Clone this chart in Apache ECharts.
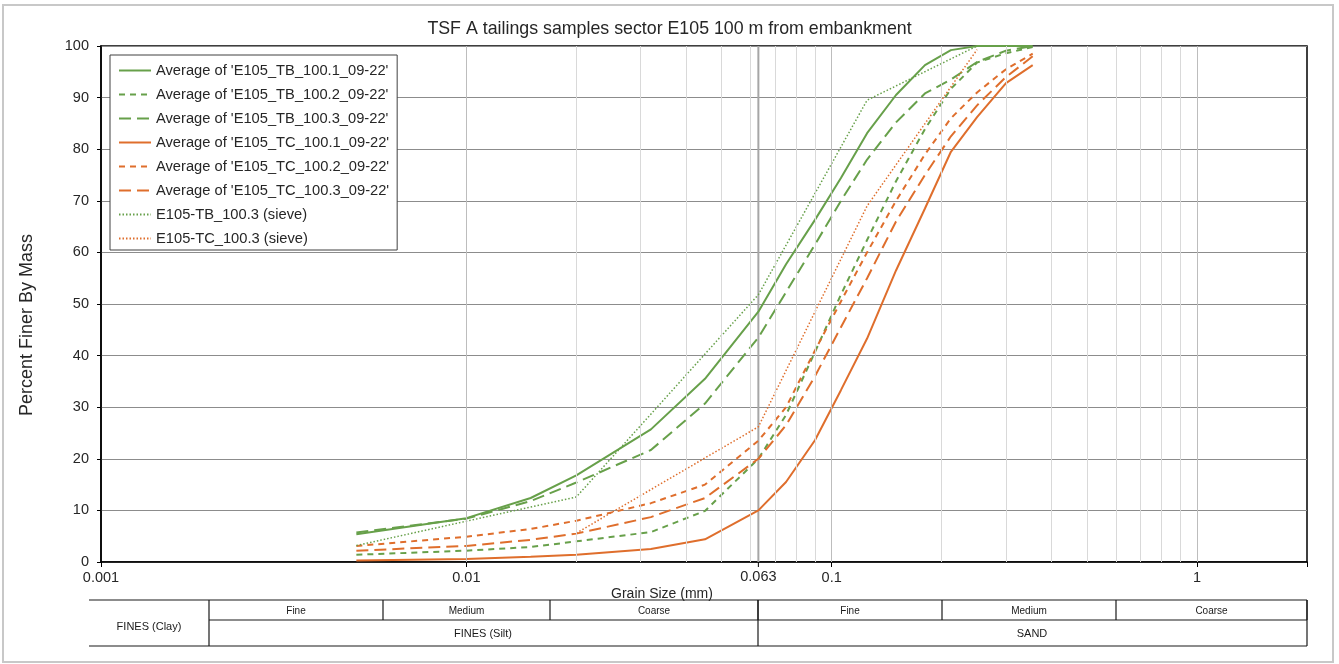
<!DOCTYPE html>
<html>
<head>
<meta charset="utf-8">
<script src="https://cdn.jsdelivr.net/npm/echarts@6/dist/echarts.min.js"></script>
<style>
  html, body { margin: 0; padding: 0; background: #fff; }
  #main { width: 1339px; height: 664px; }
</style>
</head>
<body>
<div id="main"></div>
<script>
// grain sizes (mm) for the laser averages
var avgSizes = [0.005, 0.01, 0.015, 0.02, 0.032, 0.045, 0.063, 0.075, 0.09, 0.106, 0.125, 0.15, 0.18, 0.212, 0.25, 0.3, 0.355];
// percent finer
var tb1 = [5.4, 8.5, 12.4, 16.8, 25.7, 35.5, 48.5, 57.7, 66.3, 74.4, 83.1, 90.5, 96.3, 99.2, 100, 100, 100];
var tb2 = [1.4, 2.2, 2.9, 4.0, 5.8, 9.9, 20.0, 28.5, 40.7, 51.8, 62.4, 73.8, 83.9, 91.7, 96.8, 98.6, 99.8];
var tb3 = [5.7, 8.4, 11.8, 15.4, 21.7, 30.7, 43.5, 52.3, 61.5, 70.0, 78.0, 85.2, 90.8, 93.5, 96.9, 99.1, 100];
var tc1 = [0.3, 0.6, 1.0, 1.4, 2.5, 4.4, 10.0, 15.5, 23.6, 33.3, 43.3, 56.5, 68.5, 79.5, 86.2, 92.8, 96.3];
var tc2 = [3.1, 4.9, 6.4, 8.0, 11.4, 15.0, 23.5, 30.0, 41.0, 50.5, 60.0, 70.0, 79.0, 86.0, 91.0, 95.5, 98.5];
var tc3 = [2.2, 3.1, 4.3, 5.5, 8.7, 12.4, 20.0, 26.5, 36.0, 45.5, 55.0, 66.0, 75.0, 82.5, 88.5, 94.0, 98.0];
// sieve / hydrometer curves
var tbSieveSizes = [0.005, 0.02, 0.063, 0.125, 0.25];
var tbSieve = [3.2, 12.6, 51.8, 89.5, 100];
var tcSieveSizes = [0.02, 0.063, 0.125, 0.25];
var tcSieve = [5.6, 26.2, 69.0, 99.3];

var xTickLabels = [0.001, 0.01, 0.1, 1];
var siltSandLimit = 0.063;
var seriesNames = [
  "Average of 'E105_TB_100.1_09-22'",
  "Average of 'E105_TB_100.2_09-22'",
  "Average of 'E105_TB_100.3_09-22'",
  "Average of 'E105_TC_100.1_09-22'",
  "Average of 'E105_TC_100.2_09-22'",
  "Average of 'E105_TC_100.3_09-22'",
  "E105-TB_100.3 (sieve)",
  "E105-TC_100.3 (sieve)"
];

var GREEN = '#67a04a', ORANGE = '#df6e2c';
var FONT = 'Liberation Sans, Arial, sans-serif';

function pairs(xs, ys) {
  return xs.map(function (x, i) { return [x, ys[i]]; });
}

// vertical grid lines: minor 2..9 per decade and the decades
var gridLines = [];
for (var d = -3; d <= 0; d++) {
  for (var m = 1; m <= 9; m++) {
    var v = m * Math.pow(10, d);
    if (v <= 0.001 || v >= 2) continue;
    gridLines.push({
      xAxis: v,
      lineStyle: { color: m === 1 ? '#bdbdbd' : '#d9d9d9', width: 1, type: 'solid' }
    });
  }
}

function mk(name, xs, ys, color, type, width) {
  return {
    name: name,
    type: 'line',
    data: pairs(xs, ys),
    symbol: 'none',
    z: 3,
    lineStyle: { color: color, type: type, width: width },
    itemStyle: { color: color }
  };
}

var series = [
  mk(seriesNames[0], avgSizes, tb1, GREEN, 'solid', 2),
  mk(seriesNames[1], avgSizes, tb2, GREEN, [6, 5], 2),
  mk(seriesNames[2], avgSizes, tb3, GREEN, [12, 6], 2),
  mk(seriesNames[3], avgSizes, tc1, ORANGE, 'solid', 2),
  mk(seriesNames[4], avgSizes, tc2, ORANGE, [6, 5], 2),
  mk(seriesNames[5], avgSizes, tc3, ORANGE, [12, 6], 2),
  mk(seriesNames[6], tbSieveSizes, tbSieve, GREEN, [1.5, 2], 1.5),
  mk(seriesNames[7], tcSieveSizes, tcSieve, ORANGE, [1.5, 2], 1.5)
];
series.push({
  name: 'grid',
  type: 'line',
  data: [],
  silent: true,
  z: 1,
  markLine: { silent: true, symbol: 'none', animation: false, label: { show: false }, data: gridLines }
});
// silt / sand boundary line
series.push({
  name: 'limit',
  type: 'line',
  data: [[siltSandLimit, 0], [siltSandLimit, 100]],
  symbol: 'none',
  silent: true,
  z: 2,
  lineStyle: { color: '#a6a6a6', width: 2 }
});

// classification table under the chart
var tTop = 600, tMid = 620, tBot = 646, tLeft = 89, tRight = 1307, tClay = 209;
var topCells = [209, 383, 550, 758, 942, 1116, 1307];
var topNames = ['Fine', 'Medium', 'Coarse', 'Fine', 'Medium', 'Coarse'];
var tableLine = { stroke: '#1a1a1a', lineWidth: 1.2 };
var graphic = [
  { type: 'rect', shape: { x: 3, y: 5, width: 1330, height: 657 }, style: { fill: 'none', stroke: '#c8c8c8', lineWidth: 2 }, silent: true },
  { type: 'line', shape: { x1: tLeft, y1: tTop, x2: tRight, y2: tTop }, style: tableLine },
  { type: 'line', shape: { x1: tClay, y1: tMid, x2: tRight, y2: tMid }, style: tableLine },
  { type: 'line', shape: { x1: tLeft, y1: tBot, x2: tRight, y2: tBot }, style: tableLine },
  { type: 'line', shape: { x1: tClay, y1: tTop, x2: tClay, y2: tBot }, style: tableLine },
  { type: 'line', shape: { x1: 758, y1: tTop, x2: 758, y2: tBot }, style: tableLine },
  { type: 'line', shape: { x1: tRight, y1: tTop, x2: tRight, y2: tBot }, style: tableLine },
  { type: 'text', x: 149, y: 627, style: { text: 'FINES (Clay)', font: '11px ' + FONT, fill: '#1a1a1a', textAlign: 'center', textVerticalAlign: 'middle' } },
  { type: 'text', x: 483, y: 634, style: { text: 'FINES (Silt)', font: '11px ' + FONT, fill: '#1a1a1a', textAlign: 'center', textVerticalAlign: 'middle' } },
  { type: 'text', x: 1032, y: 634, style: { text: 'SAND', font: '11px ' + FONT, fill: '#1a1a1a', textAlign: 'center', textVerticalAlign: 'middle' } },
  { type: 'text', x: 662, y: 594, style: { text: 'Grain Size (mm)', font: '14px ' + FONT, fill: '#262626', textAlign: 'center', textVerticalAlign: 'middle' } },
  { type: 'text', x: 27, y: 325, rotation: Math.PI / 2, style: { text: 'Percent Finer By Mass', font: '18px ' + FONT, fill: '#262626', textAlign: 'center', textVerticalAlign: 'middle' } }
];
for (var i = 0; i < topNames.length; i++) {
  graphic.push({ type: 'line', shape: { x1: topCells[i + 1], y1: tTop, x2: topCells[i + 1], y2: tMid }, style: tableLine });
  graphic.push({ type: 'text', x: (topCells[i] + topCells[i + 1]) / 2, y: 611, style: { text: topNames[i], font: '10px ' + FONT, fill: '#1a1a1a', textAlign: 'center', textVerticalAlign: 'middle' } });
}

var myChart = echarts.init(document.getElementById('main'));
myChart.setOption({
  animation: false,
  backgroundColor: '#fff',
  textStyle: { fontFamily: FONT },
  title: {
    text: 'TSF A tailings samples sector E105 100 m from embankment',
    left: 'center',
    top: 15,
    textStyle: { fontSize: 17.8, fontWeight: 'normal', color: '#262626', fontFamily: FONT }
  },
  grid: {
    left: 101, right: 32, top: 46, bottom: 102,
    show: true, borderColor: '#000', borderWidth: 1.5
  },
  legend: {
    data: seriesNames,
    orient: 'vertical',
    left: 110, top: 55,
    padding: [8, 8, 4, 8],
    itemWidth: 32, itemHeight: 14, itemGap: 9,
    itemStyle: { opacity: 0 },
    backgroundColor: '#fff',
    borderColor: '#404040', borderWidth: 1,
    textStyle: { fontSize: 14.7, color: '#262626', fontFamily: FONT }
  },
  xAxis: {
    type: 'log',
    logBase: 10,
    min: 0.001,
    max: 2,
    axisLine: { show: true, onZero: false, lineStyle: { color: '#000', width: 1.5 } },
    axisTick: { show: true, length: 5, lineStyle: { color: '#000' } },
    axisLabel: {
      margin: 8, fontSize: 14.5, color: '#262626',
      formatter: function (v) {
        for (var i = 0; i < xTickLabels.length; i++) {
          if (Math.abs(v - xTickLabels[i]) < xTickLabels[i] * 1e-6) return String(xTickLabels[i]);
        }
        return '';
      }
    },
    splitLine: { show: false }
  },
  yAxis: {
    type: 'value',
    min: 0, max: 100, interval: 10,
    axisLine: { show: true, lineStyle: { color: '#000', width: 1.5 } },
    axisTick: { show: true, length: 4, lineStyle: { color: '#000' } },
    axisLabel: { fontSize: 14.5, color: '#262626', margin: 12 },
    splitLine: { show: true, lineStyle: { color: '#8c8c8c', width: 1.2 } }
  },
  graphic: graphic,
  series: series
});

// 0.063 label placed under the boundary line
var limitPx = myChart.convertToPixel({ xAxisIndex: 0, yAxisIndex: 0 }, [siltSandLimit, 0]);
graphic.push({ type: 'text', x: limitPx[0], y: limitPx[1] + 15, style: { text: String(siltSandLimit), font: '14.5px ' + FONT, fill: '#262626', textAlign: 'center', textVerticalAlign: 'middle' } });
graphic.push({ type: 'line', shape: { x1: limitPx[0], y1: limitPx[1], x2: limitPx[0], y2: limitPx[1] + 5 }, style: { stroke: '#000', lineWidth: 1 } });
myChart.setOption({ graphic: graphic }, { replaceMerge: ['graphic'] });
</script>
</body>
</html>
